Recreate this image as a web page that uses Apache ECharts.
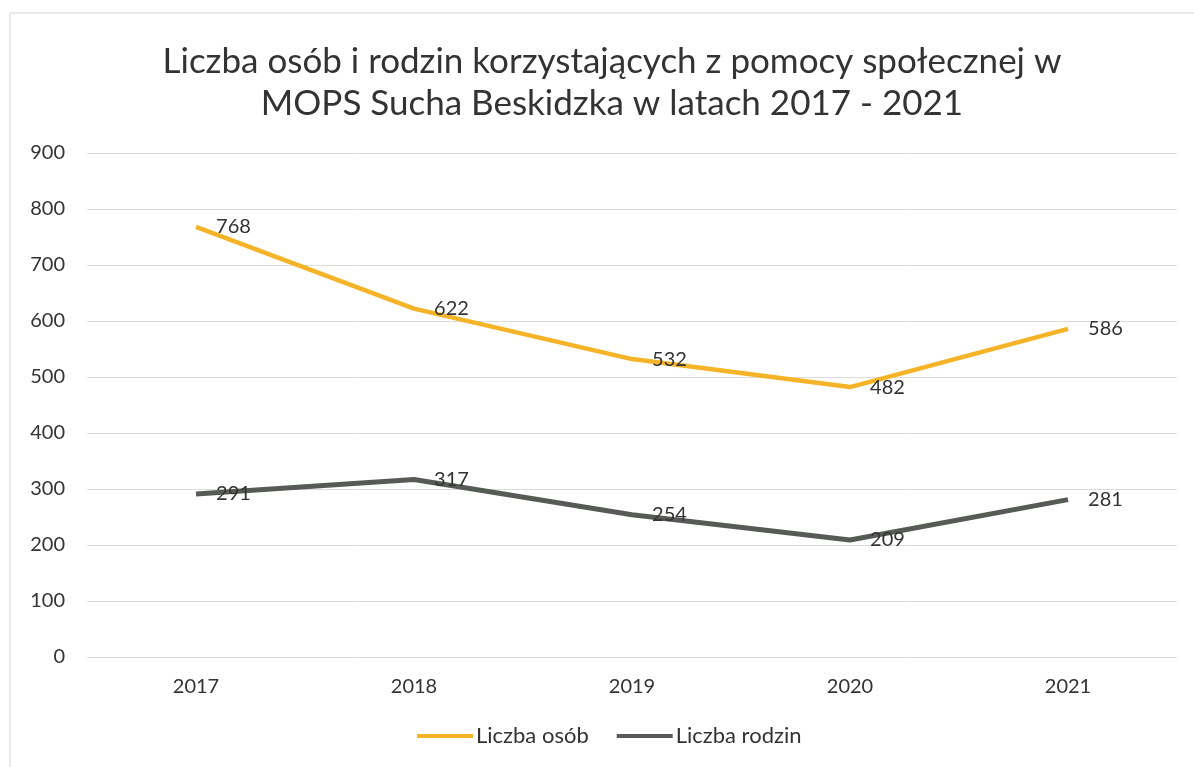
<!DOCTYPE html>
<html>
<head>
<meta charset="utf-8">
<script src="https://cdn.jsdelivr.net/npm/echarts@6/dist/echarts.min.js"></script>
<style>
html,body{margin:0;padding:0;background:#fff;}
#chart{width:1194px;height:767px;}
</style>
</head>
<body>
<div id="chart"></div>
<script>
const categories = ['2017', '2018', '2019', '2020', '2021'];
const liczbaOsob = [768, 622, 532, 482, 586];
const liczbaRodzin = [291, 317, 254, 209, 281];
const seriesNames = ['Liczba osób', 'Liczba rodzin'];
const colors = ['#F5B327', '#575B55'];
const titleText = 'Liczba osób i rodzin korzystających z pomocy społecznej w\nMOPS Sucha Beskidzka w latach 2017 - 2021';

const FONT = 'Lato, "Open Sans", sans-serif';
const chart = echarts.init(document.getElementById('chart'));
const labelStyle = { show: true, position: 'right', distance: 20, fontFamily: FONT, fontSize: 20, color: '#333' };
chart.setOption({
  backgroundColor: '#ffffff',
  color: colors,
  textStyle: { fontFamily: FONT },
  graphic: [{
    type: 'rect',
    shape: { x: 10, y: 13, width: 1200, height: 800 },
    style: { fill: 'none', stroke: '#e2e2e2', lineWidth: 1.5 },
    silent: true
  }],
  title: {
    text: titleText,
    left: 607,
    textAlign: 'center',
    top: 36,
    textStyle: { fontFamily: FONT, fontSize: 35, fontWeight: 'normal', color: '#333', lineHeight: 42 }
  },
  legend: {
    bottom: 15,
    left: 412,
    itemWidth: 56,
    itemHeight: 4,
    itemGap: 28,
    icon: 'rect',
    textStyle: { fontFamily: FONT, fontSize: 22, color: '#333', padding: [0, 0, 0, -2] },
    data: [
      { name: seriesNames[0], itemStyle: { color: colors[0], opacity: 1 } },
      { name: seriesNames[1], itemStyle: { color: colors[1], opacity: 1 } }
    ]
  },
  grid: { left: 87, right: 17, top: 153, bottom: 110, containLabel: false },
  xAxis: {
    type: 'category',
    data: categories,
    boundaryGap: true,
    axisLine: { show: false },
    axisTick: { show: false },
    axisLabel: { fontFamily: FONT, fontSize: 20, color: '#333', margin: 20 }
  },
  yAxis: {
    type: 'value',
    min: 0,
    max: 900,
    interval: 100,
    axisLine: { show: false },
    axisTick: { show: false },
    axisLabel: { fontFamily: FONT, fontSize: 20, color: '#333', margin: 22 },
    splitLine: { lineStyle: { color: '#dcdcdc', width: 1 } }
  },
  series: [
    {
      name: seriesNames[0],
      type: 'line',
      data: liczbaOsob,
      symbol: 'circle',
      symbolSize: 0.1,
      showSymbol: true,
      lineStyle: { color: colors[0], width: 4.5 },
      itemStyle: { color: colors[0] },
      label: labelStyle
    },
    {
      name: seriesNames[1],
      type: 'line',
      data: liczbaRodzin,
      symbol: 'circle',
      symbolSize: 0.1,
      showSymbol: true,
      lineStyle: { color: colors[1], width: 5 },
      itemStyle: { color: colors[1] },
      label: labelStyle
    }
  ]
});
</script>
</body>
</html>
